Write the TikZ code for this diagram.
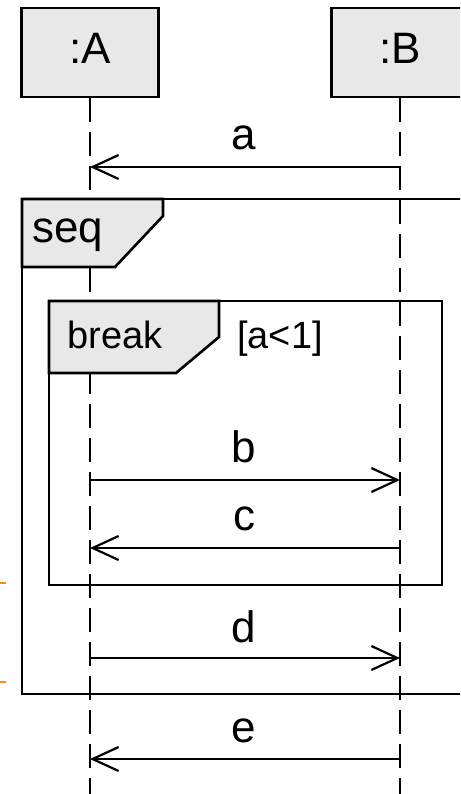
\documentclass[tikz,border=0pt]{standalone}
\usepackage{fontspec}
\setmainfont{Liberation Sans}
\usetikzlibrary{arrows.meta}
\definecolor{boxgray}{HTML}{E8E8E8}
\definecolor{markorange}{HTML}{FF8C1A}
\begin{document}
\begin{tikzpicture}[x=1pt,y=-1pt,
  lbl/.style={font=\fontsize{44}{46}\selectfont, inner sep=0pt, anchor=base},
  small/.style={font=\fontsize{38}{40}\selectfont, inner sep=0pt, anchor=base},
  actor/.style={draw, line width=2.8pt, fill=boxgray, minimum width=137pt, minimum height=89pt, inner sep=0pt, text depth=8pt, font=\fontsize{44}{46}\selectfont},
  lifeline/.style={line width=2.2pt, dash pattern=on 24pt off 10pt},
  msg/.style={line width=2.2pt, -{Straight Barb[length=26pt,width=24pt,line width=2.2pt]}},
  frameline/.style={line width=2.6pt},
  tabshape/.style={line width=2.6pt, fill=boxgray}]
\path[use as bounding box] (0,0) rectangle (460,794);
\fill[white] (0,0) rectangle (460,794);
\clip (0,0) rectangle (460,794);
% participants
\node[actor] (A) at (90,52.5) {:A};
\node[actor] (B) at (400,52.5) {:B};
\coordinate (Aend) at (90,794);
\coordinate (Bend) at (400,794);
\draw[lifeline] (A.south) -- (Aend);
\draw[lifeline] (B.south) -- (Bend);
% seq frame
\draw[frameline] (22,199) rectangle (480,694);
\filldraw[tabshape] (22,199) -- (163,199) -- (163,216) -- (115,267) -- (22,267) -- cycle;
\node[lbl] (seq) at (67.5,243) {seq};
% break frame
\draw[frameline] (49,301) rectangle (442,585);
\filldraw[tabshape] (49,301) -- (219,301) -- (219,337) -- (176,373) -- (49,373) -- cycle;
\node[small] (brk) at (115,348) {break};
\node[small] (guard) at (280,348) {[a<1]};
% message points
\coordinate (aA) at (90,167);  \coordinate (aB) at (400,167);
\coordinate (bA) at (90,480);  \coordinate (bB) at (400,480);
\coordinate (cA) at (90,548);  \coordinate (cB) at (400,548);
\coordinate (dA) at (90,658);  \coordinate (dB) at (400,658);
\coordinate (eA) at (90,759);  \coordinate (eB) at (400,759);
% messages
\draw[msg] (aB) -- (aA);
\draw[msg] (bA) -- (bB);
\draw[msg] (cB) -- (cA);
\draw[msg] (dA) -- (dB);
\draw[msg] (eB) -- (eA);
\node[lbl] (la) at (244,150) {a};
\node[lbl] (lb) at (244,462) {b};
\node[lbl] (lc) at (244,530) {c};
\node[lbl] (ld) at (244,642) {d};
\node[lbl] (le) at (244,742) {e};
% orange marks at left edge
\draw[markorange, line width=2pt] (0,583) -- (6,583);
\draw[markorange, line width=2pt] (0,682) -- (6,682);
\end{tikzpicture}
\end{document}
